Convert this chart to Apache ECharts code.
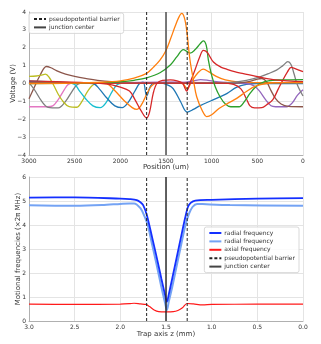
<!DOCTYPE html>
<html>
<head>
<meta charset="utf-8">
<script src="https://cdn.jsdelivr.net/npm/echarts@6/dist/echarts.min.js"></script>
<style>
  html, body { margin: 0; padding: 0; background: #fff; }
  #chart { width: 321px; height: 344px; }
</style>
</head>
<body>
<div id="chart"></div>
<script>
// ---- data ----
// top panel: electrode voltages, [position um, volts]
var pinkL = [[3000,-1.3],[2800,-1.3],[2740,-1.25],[2680,-0.9],[2620,-0.4],[2570,-0.05],[2500,0.02],[1500,0.06],[1000,0.05],[0,0.03]];
var grayL = [[3000,0.05],[2940,-0.35],[2860,-1.0],[2790,-1.33],[2680,-1.36],[2600,-1.0],[2530,-0.45],[2470,-0.05],[2400,0.02],[1500,0.03],[0,0.02]];
var brownL = [[3000,-0.85],[2950,-0.3],[2880,0.45],[2810,0.95],[2760,0.88],[2700,0.72],[2600,0.52],[2500,0.4],[2400,0.3],[2250,0.18],[2100,0.1],[1900,0.05],[1700,0.03],[1000,0.02],[0,0.01]];
var oliveL = [[3000,0.4],[2920,0.42],[2860,0.47],[2820,0.52],[2780,0.35],[2730,-0.1],[2680,-0.6],[2620,-1.05],[2560,-1.3],[2480,-1.33],[2420,-1.0],[2360,-0.45],[2290,-0.05],[2200,0.02],[0,0.02]];
var cyanL = [[3000,0.15],[2800,0.1],[2600,0.04],[2500,-0.05],[2450,-0.4],[2380,-0.85],[2300,-1.25],[2220,-1.35],[2160,-1.1],[2090,-0.45],[2030,-0.05],[1950,0.02],[0,0.01]];
var blueL = [[3000,0.1],[2600,0.05],[2300,0.0],[2230,-0.3],[2150,-0.8],[2060,-1.25],[1980,-1.35],[1920,-1.1],[1840,-0.42],[1790,0.0],[1750,0.08],[1712,-0.7],[1670,-0.15],[1630,0.02],[1560,0.04],[1500,-0.05],[1440,-0.2],[1400,-0.45],[1340,-1.02],[1268,-1.6],[1200,-1.45],[1120,-1.22],[1000,-0.95],[900,-0.72],[830,-0.55],[730,-0.22],[620,-0.05],[500,0.0],[0,0.0]];
var orangeBig = [[3000,0.0],[2500,0.02],[2200,0.07],[2000,0.15],[1850,0.3],[1712,0.57],[1640,0.9],[1566,1.31],[1500,1.85],[1450,2.5],[1400,3.2],[1360,3.7],[1328,3.92],[1300,3.7],[1274,3.0],[1237,1.3],[1200,0.2],[1164,-0.74],[1100,-1.55],[1054,-1.85],[1000,-1.75],[920,-1.4],[820,-1.1],[726,-0.83],[620,-0.45],[520,-0.15],[400,0.0],[200,0.05],[0,0.05]];
var orangeL = [[3000,0.02],[2300,0.02],[2150,-0.02],[2070,-0.35],[1960,-0.95],[1870,-1.35],[1820,-1.45],[1770,-1.2],[1712,-0.6],[1660,-0.15],[1600,0.02],[1450,0.05],[1320,0.0],[1268,-0.3],[1220,0.1],[1150,0.6],[1091,0.8],[1030,0.65],[950,0.4],[850,0.2],[700,0.08],[500,0.05],[0,0.05]];
var greenBig = [[3000,0.0],[2400,0.02],[2100,0.06],[1950,0.12],[1850,0.18],[1712,0.32],[1566,0.6],[1450,1.05],[1380,1.5],[1310,1.9],[1268,1.78],[1237,1.7],[1180,1.9],[1130,2.2],[1091,2.39],[1060,2.15],[1036,1.31],[1000,0.45],[960,-0.2],[909,-0.74],[850,-1.15],[790,-1.3],[700,-1.3],[640,-1.0],[580,-0.55],[520,-0.2],[470,0.0],[380,0.15],[250,0.2],[0,0.22]];
var redBig = [[3000,0.15],[2700,0.1],[2400,0.05],[2150,-0.02],[2000,-0.2],[1900,-0.42],[1840,-0.9],[1770,-1.55],[1712,-1.93],[1680,-1.6],[1640,-0.55],[1600,0.0],[1540,0.18],[1450,0.2],[1380,0.15],[1320,0.02],[1274,-0.42],[1240,0.0],[1180,0.8],[1130,1.5],[1091,1.85],[1050,1.75],[981,1.2],[900,0.92],[836,0.8],[750,0.66],[653,0.55],[470,0.35],[300,0.2],[0,0.1]];
var purpleR = [[3000,0.05],[2000,0.05],[1500,0.08],[1300,0.06],[1200,0.15],[1120,0.22],[1040,0.18],[950,0.1],[800,0.04],[620,0.0],[540,-0.12],[480,-0.4],[410,-0.9],[350,-1.25],[300,-1.3],[180,-1.3],[120,-1.1],[60,-0.65],[0,-0.35]];
var redR = [[3000,0.02],[900,0.02],[760,-0.05],[680,-0.3],[620,-0.85],[580,-1.25],[530,-1.36],[450,-1.35],[400,-1.2],[330,-0.9],[270,-0.3],[220,0.2],[170,0.65],[130,0.9],[80,0.82],[0,0.66]];
var grayR = [[3000,0.02],[1200,0.03],[900,0.05],[750,0.08],[620,0.18],[480,0.36],[380,0.55],[290,0.75],[220,1.0],[165,1.22],[130,1.05],[100,0.57],[60,-0.1],[0,-0.7]];
var brownR = [[3000,0.01],[900,0.01],[700,0.03],[580,0.12],[500,0.25],[450,0.28],[400,0.1],[350,-0.4],[300,-0.85],[240,-1.15],[160,-1.28],[0,-1.3]];

var barrierUm = [1712, 1268];
var junctionUm = 1500;

// bottom panel: motional frequencies, [z mm, x2pi MHz]
var radialA = [[3.0,5.14],[2.5,5.15],[2.0,5.1],[1.9,5.08],[1.82,5.04],[1.78,4.95],[1.75,4.83],[1.71,4.42],[1.65,3.45],[1.6,2.62],[1.55,1.75],[1.51,1.08],[1.49,0.8],[1.47,1.1],[1.43,1.8],[1.38,2.7],[1.33,3.6],[1.29,4.3],[1.26,4.75],[1.23,4.92],[1.18,5.02],[1.0,5.05],[0.5,5.1],[0.0,5.12]];
var radialB = [[3.0,4.82],[2.5,4.8],[2.2,4.83],[2.0,4.88],[1.9,4.9],[1.85,4.9],[1.78,4.7],[1.74,4.4],[1.7,4.0],[1.65,3.15],[1.6,2.3],[1.55,1.4],[1.51,0.75],[1.49,0.46],[1.47,0.8],[1.43,1.45],[1.38,2.35],[1.33,3.25],[1.29,3.95],[1.25,4.45],[1.21,4.75],[1.16,4.88],[1.1,4.87],[0.8,4.83],[0.0,4.8]];
var axial = [[3.0,0.7],[2.5,0.69],[2.0,0.7],[1.9,0.72],[1.85,0.74],[1.78,0.71],[1.72,0.69],[1.68,0.6],[1.63,0.46],[1.58,0.39],[1.5,0.38],[1.42,0.39],[1.37,0.44],[1.32,0.55],[1.27,0.73],[1.2,0.71],[1.1,0.67],[1.0,0.69],[0.5,0.7],[0.0,0.7]];

var barrierMm = [1.712, 1.268];
var junctionMm = 1.5;

// ---- chart ----
var FONT = 'DejaVu Sans';
var tab = { blue:'#1f77b4', orange:'#ff7f0e', green:'#2ca02c', red:'#d62728', purple:'#9467bd',
            brown:'#8c564b', pink:'#e377c2', gray:'#7f7f7f', olive:'#bcbd22', cyan:'#17becf' };

function minus(v) { return v < 0 ? '\u2212' + (-v) : '' + v; }

function curve(data, color) {
    return {
        type: 'line', xAxisIndex: 0, yAxisIndex: 0, data: data, symbol: 'none',
        smooth: 0.35, lineStyle: { color: color, width: 1.3 }, silent: true, z: 2
    };
}
function vline(name, x, lo, hi, idx, dashed, color, w) {
    return {
        name: name, type: 'line', xAxisIndex: idx, yAxisIndex: idx, symbol: 'none',
        data: [[x, lo], [x, hi]], silent: true, z: 5,
        lineStyle: { color: color, width: w, type: dashed ? [3, 2] : 'solid' },
        itemStyle: { color: color }
    };
}

var axisBase = {
    axisLine: { show: true, onZero: false, lineStyle: { color: '#b0b0b0', width: 1 } },
    axisTick: { show: false },
    splitLine: { show: true, lineStyle: { color: '#e4e4e4', width: 1 } },
    nameTextStyle: { color: '#333', fontSize: 7, fontFamily: FONT },
    nameMoveOverlap: false
};
function ax(extra) { return Object.assign({}, JSON.parse(JSON.stringify(axisBase)), extra); }
function lab(fmt) { return { color: '#333', fontSize: 6, fontFamily: FONT, margin: 3, formatter: fmt }; }

var series = [
    curve(brownL, tab.brown), curve(pinkL, tab.pink), curve(grayL, tab.gray), curve(oliveL, tab.olive),
    curve(cyanL, tab.cyan), curve(blueL, tab.blue), curve(orangeL, tab.orange), curve(purpleR, tab.purple),
    curve(brownR, tab.brown), curve(grayR, tab.gray), curve(redR, tab.red),
    curve(greenBig, tab.green), curve(redBig, tab.red), curve(orangeBig, tab.orange),
    vline('pseudopotential barrier', barrierUm[0], -4, 4, 0, true, '#222', 1),
    vline('pseudopotential barrier', barrierUm[1], -4, 4, 0, true, '#222', 1),
    vline('junction center', junctionUm, -4, 4, 0, false, '#444', 1.4),
    {
        name: 'radial frequency', type: 'line', xAxisIndex: 1, yAxisIndex: 1, data: radialA,
        symbol: 'none', smooth: 0.3, silent: true, z: 4,
        lineStyle: { color: '#1430ff', width: 1.8 }, itemStyle: { color: '#1430ff' }
    },
    {
        name: 'radial frequency ', type: 'line', xAxisIndex: 1, yAxisIndex: 1, data: radialB,
        symbol: 'none', smooth: 0.3, silent: true, z: 3,
        lineStyle: { color: '#74a3f4', width: 2 }, itemStyle: { color: '#74a3f4' }
    },
    {
        name: 'axial frequency', type: 'line', xAxisIndex: 1, yAxisIndex: 1, data: axial,
        symbol: 'none', smooth: 0.3, silent: true, z: 3,
        lineStyle: { color: '#ff1a1a', width: 1.2 }, itemStyle: { color: '#ff1a1a' }
    },
    vline('pseudopotential barrier', barrierMm[0], 0, 6, 1, true, '#222', 1),
    vline('pseudopotential barrier', barrierMm[1], 0, 6, 1, true, '#222', 1),
    vline('junction center', junctionMm, 0, 6, 1, false, '#222', 1.4)
];

var legendBase = {
    orient: 'vertical', itemWidth: 12, itemHeight: 6, itemGap: 2.4, padding: [3, 4, 3, 4],
    borderColor: '#cfcfcf', borderWidth: 0.8, borderRadius: 2, backgroundColor: 'rgba(255,255,255,0.85)',
    textStyle: { fontSize: 6, fontFamily: FONT, color: '#333', padding: [0, 0, 0, -2] },
    itemStyle: { opacity: 0 },
    selectedMode: false
};

var c = echarts.init(document.getElementById('chart'), null, { renderer: 'canvas' });
c.setOption({
    animation: false,
    backgroundColor: '#fff',
    grid: [
        { left: 29, top: 12, width: 274, height: 143 },
        { left: 29, top: 177, width: 274, height: 144 }
    ],
    xAxis: [
        ax({ type: 'value', gridIndex: 0, min: 0, max: 3000, interval: 500, inverse: true,
             name: 'Position (um)', nameLocation: 'middle', nameGap: 9,
             axisLabel: lab(function(v) { return '' + v; }) }),
        ax({ type: 'value', gridIndex: 1, min: 0, max: 3, interval: 0.5, inverse: true,
             name: 'Trap axis z (mm)', nameLocation: 'middle', nameGap: 10,
             axisLabel: lab(function(v) { return v.toFixed(1); }) })
    ],
    yAxis: [
        ax({ type: 'value', gridIndex: 0, min: -4, max: 4, interval: 1,
             name: 'Voltage (V)', nameLocation: 'middle', nameGap: 12,
             axisLabel: lab(minus) }),
        ax({ type: 'value', gridIndex: 1, min: 0, max: 6, interval: 1,
             name: 'Motional frequencies (\u00d72\u03c0 MHz)', nameLocation: 'middle', nameGap: 7,
             axisLabel: lab(function(v) { return '' + v; }) })
    ],
    legend: [
        Object.assign({}, legendBase, { left: 29, top: 13,
            data: ['pseudopotential barrier', 'junction center'] }),
        Object.assign({}, legendBase, { right: 22, top: 227,
            data: ['radial frequency', 'radial frequency ', 'axial frequency', 'pseudopotential barrier', 'junction center'] })
    ],
    series: series
});
</script>
</body>
</html>
